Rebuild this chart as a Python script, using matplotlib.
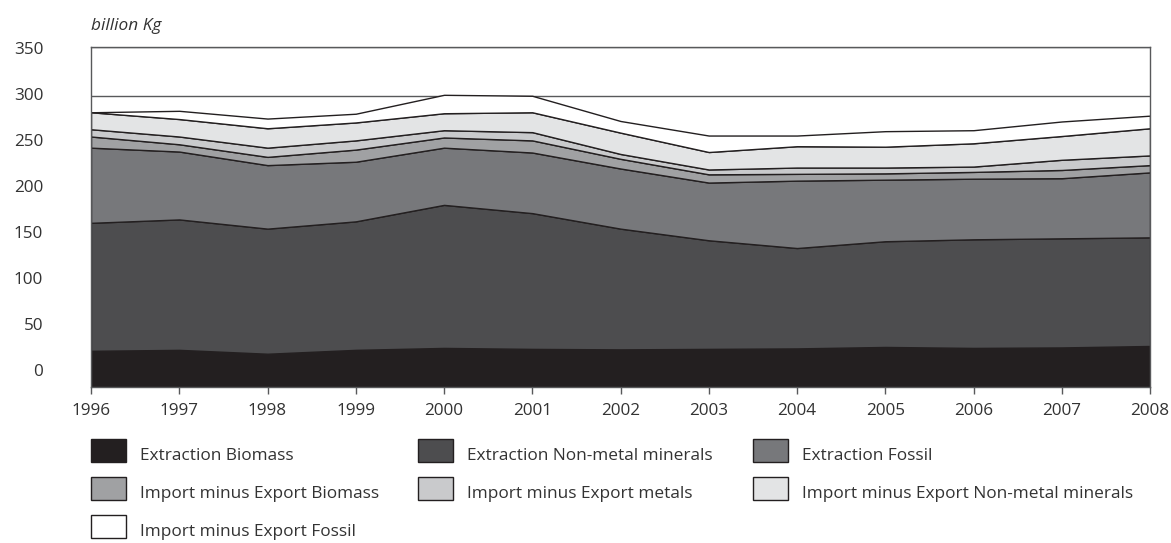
import matplotlib
matplotlib.use("Agg")
import matplotlib.pyplot as plt
from matplotlib.patches import Rectangle
import numpy as np

plt.rcParams['font.family'] = ['Open Sans', 'DejaVu Sans']

years = list(range(1996, 2009))
extraction_biomass = [37, 38, 34, 38, 40, 39, 38.5, 39, 39.5, 41, 40, 40.5, 42]
extraction_nonmetal = [132, 134.5, 129, 132.5, 147.5, 140, 124.5, 112, 103.5, 109, 112, 112.5, 112]
extraction_fossil = [77.5, 70, 65.5, 61.5, 59, 62.5, 62, 59.5, 69.5, 63.5, 62.5, 62, 67]
imp_exp_biomass = [11.5, 7.5, 8.5, 12.5, 10.5, 12.5, 10, 8.5, 7, 6.5, 7, 8.5, 7.5]
imp_exp_metals = [7.5, 8, 9.5, 9.5, 7.5, 8.5, 5, 5, 6.5, 6, 5.5, 10.5, 10]
imp_exp_nonmetal = [17.5, 18, 20, 18.5, 17.5, 20.5, 22, 18, 22, 21.5, 24, 24.5, 28]
imp_exp_fossil = [0, 8.5, 10, 9, 19, 17, 12, 17, 11, 16, 13.5, 15, 13]

series_labels = ["Extraction Biomass", "Extraction Non-metal minerals", "Extraction Fossil",
                 "Import minus Export Biomass", "Import minus Export metals",
                 "Import minus Export Non-metal minerals", "Import minus Export Fossil"]
colors = ["#231f20", "#4d4d4f", "#77787b", "#a0a1a3", "#c9cacc", "#e3e4e5", "#ffffff"]
ytick_values = [0, 50, 100, 150, 200, 250, 300, 350]
unit_label = "billion Kg"

W, H = 1171, 543
fig = plt.figure(figsize=(W / 100, H / 100), dpi=100)
ax_l, ax_r, ax_t, ax_b = 91, 1150, 47.3, 386.7
ax = fig.add_axes([ax_l / W, 1 - ax_b / H, (ax_r - ax_l) / W, (ax_b - ax_t) / H])

edge = "#231f20"
txt = "#333333"
# gridlines behind the areas
ax.hlines(ytick_values, years[0], years[-1], colors="#58595b", linewidth=1, zorder=0)
ax.stackplot(years, extraction_biomass, extraction_nonmetal, extraction_fossil,
             imp_exp_biomass, imp_exp_metals, imp_exp_nonmetal, imp_exp_fossil,
             colors=colors, edgecolor=edge, linewidth=1, zorder=2)

ax.set_xlim(years[0], years[-1])
ax.set_ylim(0, 350)
ax.set_xticks(years)
ax.set_xticklabels([str(y) for y in years])

# tick labels sit slightly offset from the value scale, as in the original
px_per_unit = (ax_b - ax_t) / 350.0
label_pos = [((ax_b - (370 - v * (322.0 / 350))) / px_per_unit) for v in ytick_values]
ax.set_yticks(label_pos)
ax.set_yticklabels([str(v) for v in ytick_values])

ax.tick_params(axis='y', length=0, pad=34.5, labelsize=12.3, labelcolor=txt)
ax.tick_params(axis='x', length=5, width=1, color="#58595b", pad=7, labelsize=12.3,
               labelcolor=txt, direction='out')
for s in ax.spines.values():
    s.set_color("#58595b")
    s.set_linewidth(1)
    s.set_zorder(3)

fig.text(ax_l / W, 1 - 26.5 / H, unit_label, style='italic', fontsize=12.4,
         color=txt, ha='left', va='center')

# legend (drawn manually, 3 columns)
col_x = [90.5, 418, 753]
row_y = [450.5, 488.5, 526.5]
pw, ph = 35, 23
for i, (lab, c) in enumerate(zip(series_labels, colors)):
    r, k = divmod(i, 3)
    x0, yc = col_x[k], row_y[r]
    rect = Rectangle((x0, H - yc - ph / 2), pw, ph, transform=None,
                     facecolor=c, edgecolor="#231f20", linewidth=1)
    fig.add_artist(rect)
    fig.text((x0 + pw + 14) / W, 1 - (yc + 6) / H, lab, fontsize=12.4,
             color=txt, ha='left', va='center')

fig.savefig("out.png", dpi=100)
